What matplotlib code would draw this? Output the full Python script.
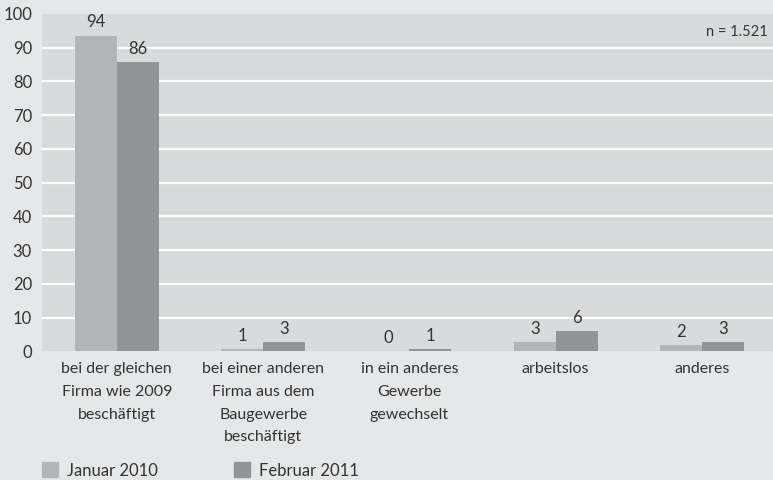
import matplotlib

matplotlib.use("Agg")
import matplotlib.pyplot as plt
import numpy as np
from matplotlib.patches import Rectangle

# Categories (German labels, already line-broken as in the source)
categories = [
    "bei der gleichen\nFirma wie 2009\nbeschäftigt",
    "bei einer anderen\nFirma aus dem\nBaugewerbe\nbeschäftigt",
    "in ein anderes\nGewerbe\ngewechselt",
    "arbeitslos",
    "anderes",
]
series_names = ["Januar 2010", "Februar 2011"]
# bar heights (unrounded, as drawn) and the printed rounded labels
jan_2010 = [93.6, 0.65, 0.0, 2.7, 1.9]
feb_2011 = [85.7, 2.7, 0.65, 5.9, 2.7]
jan_labels = ["94", "1", "0", "3", "2"]
feb_labels = ["86", "3", "1", "6", "3"]
yticks = [0, 10, 20, 30, 40, 50, 60, 70, 80, 90, 100]
note = "n = 1.521"

FIG_BG = "#e6e7e8"
AX_BG = "#d9dadb"
LIGHT = "#b3b4b5"
DARK = "#939496"
TEXT = "#333333"

plt.rcParams["font.family"] = ["Lato", "DejaVu Sans"]

fig = plt.figure(figsize=(7.73, 4.8), dpi=100, facecolor=FIG_BG)
ax = fig.add_axes([0.054, 0.268, 0.946, 0.703], facecolor=AX_BG)

x = np.arange(len(categories))
w = 0.287
ax.bar(x - w / 2, jan_2010, width=w, color=LIGHT, zorder=3)
ax.bar(x + w / 2, feb_2011, width=w, color=DARK, zorder=3)

for xi, h, lab in zip(x - w / 2, jan_2010, jan_labels):
    ax.text(xi, h + 1.5, lab, ha="center", va="bottom", fontsize=12, color=TEXT)
for xi, h, lab in zip(x + w / 2, feb_2011, feb_labels):
    ax.text(xi, h + 1.5, lab, ha="center", va="bottom", fontsize=12, color=TEXT)

ax.set_xlim(-0.513, 4.486)
ax.set_ylim(0, 100)
ax.set_yticks(yticks)
ax.set_yticklabels([str(t) for t in yticks], fontsize=12, color=TEXT)
ax.set_xticks(x)
ax.set_xticklabels(categories, fontsize=11.5, color=TEXT, linespacing=1.78, va="top")
ax.tick_params(axis="both", length=0)
ax.tick_params(axis="y", pad=7)
ax.tick_params(axis="x", pad=8)
for s in ax.spines.values():
    s.set_visible(False)

for t in yticks[1:-1]:
    ax.axhline(t, color="white", lw=1.6, zorder=1)

ax.text(0.993, 0.945, note, transform=ax.transAxes, ha="right", va="center",
        fontsize=10.5, color=TEXT)

# legend drawn in figure coordinates
for i, (name, col) in enumerate(zip(series_names, [LIGHT, DARK])):
    x0 = 42 + i * 192
    fig.patches.append(Rectangle((x0 / 773, 3 / 480), 16 / 773, 15 / 480,
                                 transform=fig.transFigure, color=col))
    fig.text((x0 + 25) / 773, 9 / 480, name, ha="left", va="center",
             fontsize=12, color=TEXT)

fig.savefig("out.png", dpi=100, facecolor=FIG_BG)
